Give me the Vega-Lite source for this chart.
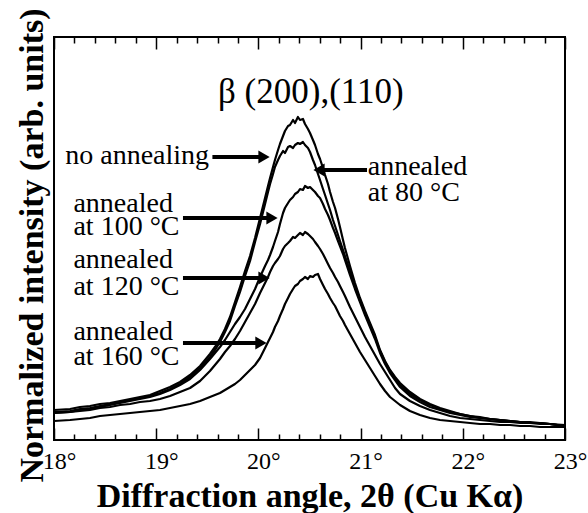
{
  "$schema": "https://vega.github.io/schema/vega-lite/v6.json",
  "width": 511,
  "height": 403,
  "autosize": {"type": "none"},
  "padding": {"left": 54, "top": 37, "right": 23, "bottom": 73},
  "config": {
    "font": "Liberation Serif",
    "view": {"stroke": "black", "strokeWidth": 2},
    "axis": {"grid": false, "domain": false, "tickColor": "black", "tickWidth": 1.5, "labelColor": "black", "titleColor": "black"}
  },
  "datasets": {
    "curves": [
      {"x":18.000,"A":30,"B":28,"C":27,"D":27,"E":19},
      {"x":18.157,"A":31,"B":29,"C":28,"D":28,"E":20},
      {"x":18.254,"A":33,"B":31,"C":30,"D":29,"E":21},
      {"x":18.352,"A":34,"B":32,"C":31,"D":30,"E":22},
      {"x":18.450,"A":36,"B":34,"C":33,"D":32,"E":24},
      {"x":18.548,"A":37,"B":36,"C":35,"D":33,"E":25},
      {"x":18.646,"A":39,"B":38,"C":37,"D":35,"E":26},
      {"x":18.744,"A":41,"B":40,"C":39,"D":36,"E":27},
      {"x":18.841,"A":43,"B":42,"C":41,"D":38,"E":28},
      {"x":18.939,"A":45,"B":44,"C":43,"D":39,"E":29},
      {"x":19.037,"A":49,"B":47,"C":46,"D":41,"E":30},
      {"x":19.135,"A":53,"B":51,"C":50,"D":44,"E":32},
      {"x":19.233,"A":58,"B":56,"C":55,"D":48,"E":34},
      {"x":19.331,"A":65,"B":63,"C":61,"D":52,"E":36},
      {"x":19.429,"A":74,"B":72,"C":70,"D":59,"E":39},
      {"x":19.526,"A":86,"B":83,"C":81,"D":69,"E":43},
      {"x":19.575,"A":93,"B":90,"C":87,"D":75,"E":45},
      {"x":19.624,"A":101,"B":98,"C":93,"D":81,"E":47},
      {"x":19.673,"A":111,"B":108,"C":100,"D":88,"E":50},
      {"x":19.722,"A":123,"B":119,"C":108,"D":94,"E":53},
      {"x":19.771,"A":138,"B":134,"C":116,"D":101,"E":56},
      {"x":19.820,"A":153,"B":148,"C":123,"D":109,"E":60},
      {"x":19.869,"A":169,"B":164,"C":131,"D":118,"E":65},
      {"x":19.918,"A":184,"B":179,"C":141,"D":127,"E":70},
      {"x":19.967,"A":202,"B":198,"C":151,"D":136,"E":75},
      {"x":20.016,"A":222,"B":216,"C":163,"D":147,"E":82},
      {"x":20.065,"A":242,"B":236,"C":174,"D":157,"E":92},
      {"x":20.094,"A":254,"B":248,"C":180,"D":163,"E":98},
      {"x":20.114,"A":262,"B":256,"C":185,"D":168,"E":102},
      {"x":20.143,"A":273,"B":266,"C":193,"D":174,"E":108},
      {"x":20.162,"A":280,"B":273,"C":199,"D":177,"E":113},
      {"x":20.192,"A":290,"B":280,"C":208,"D":181,"E":119},
      {"x":20.211,"A":296,"B":284,"C":216,"D":184,"E":124},
      {"x":20.241,"A":304,"B":289,"C":227,"D":191,"E":131},
      {"x":20.260,"A":309,"B":287,"C":232,"D":194,"E":136},
      {"x":20.290,"A":314,"B":293,"C":237,"D":197,"E":142},
      {"x":20.309,"A":315,"B":294,"C":240,"D":199,"E":146},
      {"x":20.339,"A":320,"B":292,"C":243,"D":203,"E":151},
      {"x":20.358,"A":317,"B":295,"C":246,"D":202,"E":154},
      {"x":20.387,"A":323,"B":297,"C":248,"D":205,"E":156},
      {"x":20.407,"A":320,"B":296,"C":251,"D":207,"E":159},
      {"x":20.436,"A":321,"B":298,"C":250,"D":205,"E":161},
      {"x":20.456,"A":316,"B":295,"C":254,"D":208,"E":163},
      {"x":20.485,"A":311,"B":292,"C":252,"D":206,"E":161},
      {"x":20.505,"A":307,"B":288,"C":253,"D":204,"E":164},
      {"x":20.534,"A":300,"B":280,"C":250,"D":201,"E":163},
      {"x":20.554,"A":295,"B":275,"C":248,"D":198,"E":165},
      {"x":20.583,"A":286,"B":266,"C":244,"D":194,"E":166},
      {"x":20.603,"A":281,"B":260,"C":242,"D":191,"E":161},
      {"x":20.632,"A":272,"B":251,"C":236,"D":186,"E":155},
      {"x":20.652,"A":265,"B":245,"C":231,"D":182,"E":151},
      {"x":20.681,"A":256,"B":236,"C":225,"D":176,"E":146},
      {"x":20.701,"A":248,"B":230,"C":220,"D":172,"E":142},
      {"x":20.730,"A":238,"B":220,"C":212,"D":167,"E":137},
      {"x":20.750,"A":232,"B":214,"C":207,"D":163,"E":134},
      {"x":20.779,"A":221,"B":205,"C":199,"D":158,"E":128},
      {"x":20.798,"A":213,"B":199,"C":194,"D":154,"E":124},
      {"x":20.828,"A":200,"B":190,"C":186,"D":148,"E":119},
      {"x":20.847,"A":192,"B":184,"C":180,"D":144,"E":115},
      {"x":20.896,"A":174,"B":169,"C":165,"D":133,"E":106},
      {"x":20.945,"A":157,"B":154,"C":151,"D":123,"E":97},
      {"x":20.994,"A":142,"B":140,"C":138,"D":113,"E":88},
      {"x":21.043,"A":129,"B":127,"C":125,"D":103,"E":80},
      {"x":21.092,"A":117,"B":115,"C":113,"D":94,"E":72},
      {"x":21.141,"A":105,"B":103,"C":101,"D":85,"E":64},
      {"x":21.190,"A":90,"B":89,"C":87,"D":76,"E":56},
      {"x":21.239,"A":79,"B":78,"C":76,"D":68,"E":49},
      {"x":21.288,"A":70,"B":69,"C":67,"D":60,"E":43},
      {"x":21.337,"A":63,"B":62,"C":60,"D":52,"E":39},
      {"x":21.386,"A":57,"B":55,"C":53,"D":46,"E":35},
      {"x":21.483,"A":48,"B":46,"C":44,"D":39,"E":29},
      {"x":21.581,"A":41,"B":40,"C":38,"D":34,"E":25},
      {"x":21.679,"A":36,"B":35,"C":33,"D":30,"E":22},
      {"x":21.777,"A":32,"B":31,"C":30,"D":27,"E":20},
      {"x":21.875,"A":29,"B":28,"C":27,"D":24,"E":19},
      {"x":21.973,"A":26,"B":26,"C":25,"D":22,"E":18},
      {"x":22.070,"A":24,"B":24,"C":23,"D":21,"E":17},
      {"x":22.168,"A":23,"B":22,"C":22,"D":20,"E":16},
      {"x":22.266,"A":21,"B":21,"C":21,"D":19,"E":16},
      {"x":22.364,"A":20,"B":20,"C":20,"D":18,"E":15},
      {"x":22.462,"A":19,"B":19,"C":19,"D":18,"E":15},
      {"x":22.560,"A":18,"B":18,"C":18,"D":17,"E":14},
      {"x":22.658,"A":18,"B":17,"C":17,"D":17,"E":14},
      {"x":22.755,"A":17,"B":17,"C":17,"D":16,"E":13},
      {"x":22.853,"A":16,"B":16,"C":16,"D":16,"E":13},
      {"x":23.000,"A":15,"B":14,"C":14,"D":14,"E":13}
    ],
    "labels": [
      {"t": "no annealing", "x": 18.11, "y": 276},
      {"t": "annealed", "x": 18.19, "y": 228},
      {"t": "at 100 °C", "x": 18.19, "y": 205},
      {"t": "annealed", "x": 18.19, "y": 172},
      {"t": "at 120 °C", "x": 18.19, "y": 145},
      {"t": "annealed", "x": 18.19, "y": 100},
      {"t": "at 160 °C", "x": 18.19, "y": 75},
      {"t": "annealed", "x": 21.07, "y": 265},
      {"t": "at 80 °C", "x": 21.07, "y": 239}
    ],
    "arrows": [
      {"x1": 19.55, "xh": 20.055, "y": 283, "dir": "right"},
      {"x1": 21.063, "xh": 20.593, "y": 270, "dir": "left"},
      {"x1": 19.262, "xh": 20.133, "y": 222, "dir": "right"},
      {"x1": 19.262, "xh": 20.055, "y": 162, "dir": "right"},
      {"x1": 19.262, "xh": 20.025, "y": 97, "dir": "right"}
    ],
    "peak": [
      {"t": "β (200),(110)", "x": 19.605, "y": 337}
    ]
  },
  "layer": [
    {
      "data": {"name": "curves"},
      "transform": [{"fold": ["A", "B", "C", "D", "E"], "as": ["s", "v"]}],
      "mark": {"type": "line", "color": "black", "strokeWidth": 2.2, "strokeJoin": "round"},
      "encoding": {
        "x": {"field": "x", "type": "quantitative", "scale": {"domain": [18, 23], "nice": false},
          "axis": {"orient": "bottom", "values": [18, 19, 20, 21, 22, 23], "tickSize": -12, "labelExpr": "datum.value + '°'",
            "labelFontSize": 24, "labelPadding": 40, "labelBaseline": "alphabetic", "labelOffset": 5, "labelFlush": false, "labelOverlap": false,
            "title": "Diffraction angle, 2θ (Cu Kα)", "titleFontSize": 34, "titleFontWeight": "bold", "titleBaseline": "alphabetic", "titleY": 66}},
        "y": {"field": "v", "type": "quantitative", "scale": {"domain": [0, 403], "nice": false, "zero": false},
          "axis": {"orient": "left", "ticks": false, "labels": false, "title": "Normalized intensity (arb. units)",
            "titleFontSize": 34, "titleFontWeight": "bold", "titleAngle": 270, "titleBaseline": "alphabetic", "titleX": -12, "titleY": 208, "titleAlign": "center"}},
        "detail": {"field": "s"}
      }
    },
    {
      "data": {"name": "labels"},
      "mark": {"type": "text", "align": "left", "baseline": "alphabetic", "fontSize": 28, "color": "black"},
      "encoding": {
        "x": {"field": "x", "type": "quantitative", "scale": {"domain": [18, 23], "nice": false},
          "axis": {"orient": "bottom", "values": [18.2,18.4,18.6,18.8,19.2,19.4,19.6,19.8,20.2,20.4,20.6,20.8,21.2,21.4,21.6,21.8,22.2,22.4,22.6,22.8], "tickSize": -6, "labels": false, "title": null}},
        "y": {"field": "y", "type": "quantitative", "scale": {"domain": [0, 403], "nice": false, "zero": false}, "axis": null},
        "text": {"field": "t"}
      }
    },
    {
      "data": {"name": "arrows"},
      "mark": {"type": "rule", "color": "black", "strokeWidth": 4},
      "encoding": {
        "x": {"field": "x1", "type": "quantitative", "scale": {"domain": [18, 23], "nice": false},
          "axis": {"orient": "top", "values": [18, 19, 20, 21, 22, 23], "tickSize": -12, "labels": false, "title": null}},
        "x2": {"field": "xh"},
        "y": {"field": "y", "type": "quantitative", "scale": {"domain": [0, 403], "nice": false, "zero": false}, "axis": null}
      }
    },
    {
      "data": {"name": "arrows"},
      "mark": {"type": "point", "filled": true, "color": "black", "opacity": 1, "size": 170},
      "encoding": {
        "x": {"field": "xh", "type": "quantitative", "scale": {"domain": [18, 23], "nice": false},
          "axis": {"orient": "top", "values": [18.2,18.4,18.6,18.8,19.2,19.4,19.6,19.8,20.2,20.4,20.6,20.8,21.2,21.4,21.6,21.8,22.2,22.4,22.6,22.8], "tickSize": -6, "labels": false, "title": null}},
        "y": {"field": "y", "type": "quantitative", "scale": {"domain": [0, 403], "nice": false, "zero": false}, "axis": null},
        "shape": {"field": "dir", "type": "nominal", "scale": {"domain": ["right", "left"], "range": ["triangle-right", "triangle-left"]}, "legend": null}
      }
    },
    {
      "data": {"name": "peak"},
      "mark": {"type": "text", "align": "left", "baseline": "alphabetic", "fontSize": 35, "color": "black"},
      "encoding": {
        "x": {"field": "x", "type": "quantitative", "scale": {"domain": [18, 23], "nice": false}, "axis": null},
        "y": {"field": "y", "type": "quantitative", "scale": {"domain": [0, 403], "nice": false, "zero": false}, "axis": null},
        "text": {"field": "t"}
      }
    }
  ],
  "resolve": {"axis": {"x": "independent", "y": "independent"}}
}
